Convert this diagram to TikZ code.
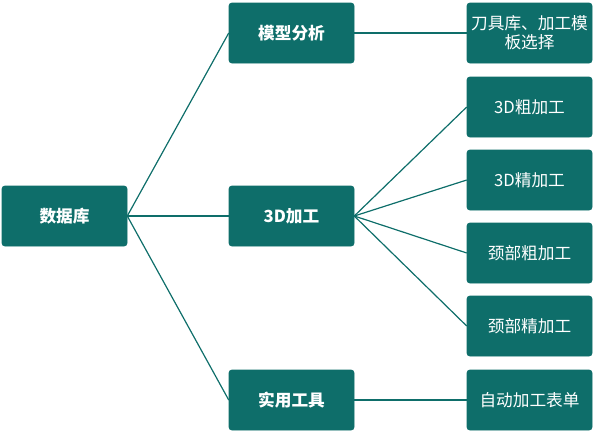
\documentclass[tikz,border=0pt]{standalone}
\usepackage{fontspec}
\newfontfamily\cjk{Noto Sans CJK SC}
\usepackage{tikz}
\usetikzlibrary{positioning}
\definecolor{teal0}{HTML}{0E6E6A}
\tikzset{
	box/.style={fill=teal0, draw=teal0, rounded corners=2pt, minimum width=93.75pt, minimum height=45pt, text=white, font=\cjk\fontsize{12.5pt}{14pt}\selectfont, align=center, inner sep=1pt},
	mainbox/.style={box, font=\cjk\bfseries\fontsize{12.5pt}{14pt}\selectfont},
	link/.style={draw=teal0, line width=0.9pt},
}
\begin{document}
\begin{tikzpicture}[x=0.75pt, y=-0.75pt]
	\useasboundingbox (0,0) rectangle (600,433);
	\node[mainbox] (db) at (64.5,216) {数据库};
	\node[mainbox] (model) at (291.5,33) {模型分析};
	\node[mainbox] (mach) at (291.5,216) {3D加工};
	\node[mainbox] (tool) at (291.5,400) {实用工具};

	\node[box] (lib) at (529.5,33) {刀具库、加工模\\板选择};
	\node[box] (r1) at (529.5,107) {3D粗加工};
	\node[box] (r2) at (529.5,180) {3D精加工};
	\node[box] (r3) at (529.5,253) {颈部粗加工};
	\node[box] (r4) at (529.5,326) {颈部精加工};
	\node[box] (form) at (529.5,400) {自动加工表单};

	\foreach \n in {model, mach, tool}
		\draw[link] (db.east) -- (\n.west);
	\draw[link] (model.east) -- (lib.west);
	\foreach \n in {r1, r2, r3, r4}
		\draw[link] (mach.east) -- (\n.west);
	\draw[link] (tool.east) -- (form.west);
\end{tikzpicture}
\end{document}
